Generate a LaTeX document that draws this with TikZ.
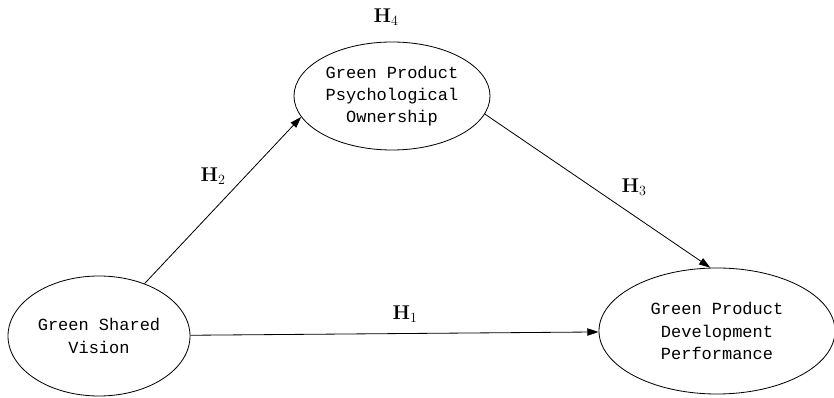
\documentclass[tikz,border=0pt]{standalone}
\usepackage{fontspec}
\setmonofont{Liberation Mono}
\usepackage{tikz}
\usetikzlibrary{shapes.geometric, arrows.meta, positioning}

\tikzset{
	construct/.style = {ellipse, draw, line width=0.7pt, inner sep=0pt, align=center,
		font=\ttfamily\fontsize{14.5}{19}\selectfont},
	hyp/.style = {font=\bfseries\fontsize{17}{17}\selectfont, inner sep=1pt}
}

\begin{document}
\begin{tikzpicture}[> = {Stealth[length=3.4mm, width=2.2mm, inset=0pt]}, x=0.03cm, y=0.03cm]
			\useasboundingbox (0,0) rectangle (834,398);
			
			%% Constructos
			\node [construct, minimum width=5.46cm, minimum height=3.6cm] (gsv) at (99,62)
			{Green Shared\\Vision};
			\node [construct, minimum width=5.88cm, minimum height=3.24cm] (gppo) at (392,302)
			{Green Product\\Psychological\\Ownership};
			\node [construct, minimum width=7.08cm, minimum height=3.78cm] (gpdp) at (717,67)
			{Green Product\\Development\\Performance};
			
			%% Caminos
			\draw [->, line width=0.7pt] (gsv.49) -- (gppo.193);
			\draw [->, line width=0.7pt] (gppo.349) -- (gpdp.96);
			\draw [->, line width=0.7pt] (gsv) -- (gpdp);
			
			%% Hipotesis
			\node [hyp] (h1) at (405,84) {H$_1$};
			\node [hyp] (h2) at (213,222) {H$_2$};
			\node [hyp] (h3) at (634,211) {H$_3$};
			\node [hyp] (h4) at (386,381) {H$_4$};
		\end{tikzpicture}
\end{document}
